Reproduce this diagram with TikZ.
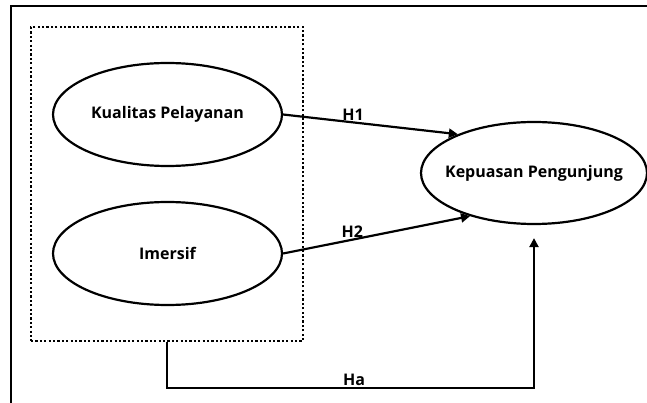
\documentclass[tikz,border=0pt]{standalone}
\usepackage{fontspec}
\setmainfont{Open Sans}
\usetikzlibrary{shapes.geometric,arrows.meta}
\begin{document}
\begin{tikzpicture}[x=1pt,y=-1pt,line width=2.2pt,
  var/.style={draw,ellipse,inner sep=0pt,label={[lbl]center:#1}},
  hyp/.style={-{Triangle[length=9pt,width=9pt]}},
  lbl/.style={font=\fontsize{16}{19}\selectfont\bfseries,inner sep=1pt}]
\useasboundingbox (0,0) rectangle (647,403);
\draw[line width=1.5pt] (11,403) -- (11,6) -- (647,6);
\node[draw,dash pattern=on 2.2pt off 2.2pt,line width=2.5pt,minimum width=272pt,minimum height=314pt,inner sep=0pt] (grp) at (167,184) {};
\node[var=Kualitas Pelayanan,minimum width=229pt,minimum height=103pt] (kp) at (167.5,114.5) {};
\node[var=Imersif,minimum width=229pt,minimum height=103pt] (im) at (167.5,253.5) {};
\node[var=Kepuasan Pengunjung,minimum width=226pt,minimum height=102pt] (kep) at (534,173) {};
\draw[hyp] (kp.east) -- (kep.153) node[lbl,pos=0.4,above] (h1) {H1};
\draw[hyp] (im.east) -- (kep.214) node[lbl,pos=0.37,above] (h2) {H2};
\draw[hyp,shorten >=13pt] (grp.south) |- (354,388) node[lbl,above] (ha) {Ha} -| (kep.south);
\end{tikzpicture}
\end{document}
